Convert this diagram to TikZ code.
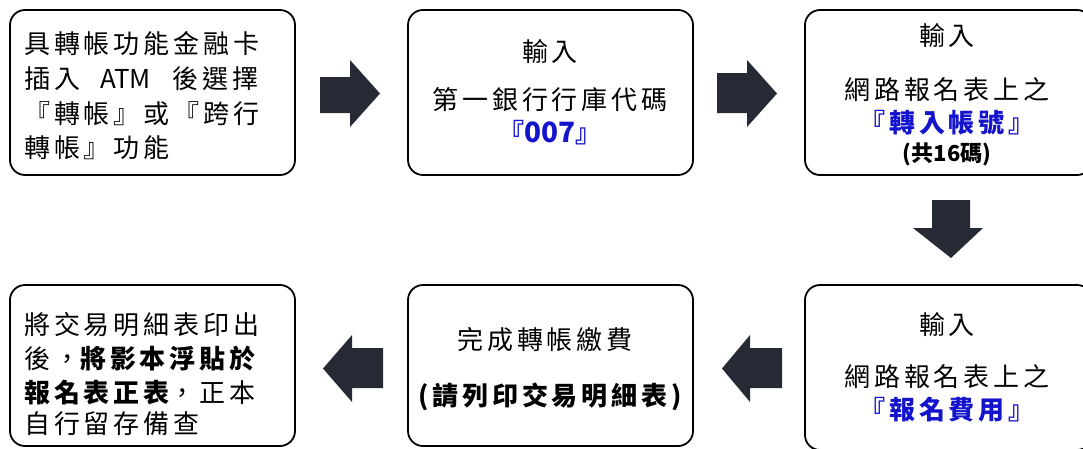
\documentclass[tikz,border=0pt]{standalone}
\usepackage{fontspec}
\setmainfont{Noto Sans CJK TC}[LetterSpace=15]
\newfontfamily\smallcjk{Noto Sans CJK TC}
\newcommand{\tight}[1]{{\addfontfeature{LetterSpace=0}#1}}
\definecolor{arrowdark}{RGB}{37,42,53}
\definecolor{textblue}{RGB}{20,20,205}
\begin{document}
\begin{tikzpicture}[x=1pt,y=-1pt,
  box/.style={draw=black,line width=1.8pt,rounded corners=15pt,inner sep=0pt},
  txt/.style={inner sep=0pt,font=\fontsize{26}{30}\selectfont},
  bluetxt/.style={txt,text=textblue,font=\fontsize{26}{30}\selectfont\bfseries},
  blockarrow/.style={fill=arrowdark,draw=none}]
\useasboundingbox (0,0) rectangle (1083,448);
% boxes
\node[box,minimum width=285pt,minimum height=165pt] (b1) at (152.5,92.5) {};
\node[box,minimum width=285pt,minimum height=165pt] (b2) at (550.5,92.5) {};
\node[box,minimum width=287pt,minimum height=165pt] (b3) at (948.5,92.5) {};
\node[box,minimum width=285pt,minimum height=161pt] (b4) at (152.5,365.5) {};
\node[box,minimum width=285pt,minimum height=161pt] (b5) at (550.5,365.5) {};
\node[box,minimum width=287pt,minimum height=165pt] (b6) at (948.5,367.5) {};
% box 1 text
\node[txt,anchor=west] (t11) at (24,44) {具轉帳功能金融卡};
\node[txt,anchor=west] (t12) at (24,79) {插入\hspace{20pt}\tight{ATM}\hspace{22pt}後選擇};
\node[txt,anchor=west] (t13) at (24,114) {『轉帳』或『跨行};
\node[txt,anchor=west] (t14) at (24,148) {轉帳』功能};
% box 2 text
\node[txt] (t21) at (550,52) {輸入};
\node[txt] (t22) at (550,100) {第一銀行行庫代碼};
\node[bluetxt] (t23) at (550,133) {『\tight{\fontsize{28}{30}\selectfont 007}』};
% box 3 text
\node[txt] (t31) at (947,36) {輸入};
\node[txt] (t32) at (947,90) {網路報名表上之};
\node[bluetxt] (t33) at (947,123) {『轉入帳號』};
\node[inner sep=0pt,font=\smallcjk\fontsize{22}{24}\selectfont\bfseries] (t34) at (947,154) {(共16碼)};
% box 6 text
\node[txt] (t61) at (947,325) {輸入};
\node[txt] (t62) at (947,377) {網路報名表上之};
\node[bluetxt] (t63) at (947,410) {『報名費用』};
% box 5 text
\node[txt] (t51) at (545,340) {完成轉帳繳費};
\node[txt,font=\fontsize{26}{30}\selectfont\bfseries] (t52) at (550,397) {(請列印交易明細表)};
% box 4 text
\node[txt,anchor=west] (t41) at (24,325) {將交易明細表印出};
\node[txt,anchor=west] (t42) at (24,359) {後，{\bfseries 將影本浮貼於}};
\node[txt,anchor=west] (t43) at (24,393) {{\bfseries 報名表正表}，正本};
\node[txt,anchor=west] (t44) at (24,424) {自行留存備查};
% block arrows
\fill[blockarrow] (320,77) -- (350,77) -- (350,60) -- (380,93.5) -- (350,127) -- (350,113) -- (320,113) -- cycle;
\fill[blockarrow] (717,73) -- (747,73) -- (747,60) -- (777,93.5) -- (747,127) -- (747,113) -- (717,113) -- cycle;
\fill[blockarrow] (932,200) -- (970,200) -- (970,228) -- (983,228) -- (951,258) -- (913,228) -- (932,228) -- cycle;
\fill[blockarrow] (782,348) -- (750,348) -- (750,335) -- (722,368.5) -- (750,402) -- (750,388) -- (782,388) -- cycle;
\fill[blockarrow] (383,348) -- (352,348) -- (352,335) -- (323,368.5) -- (352,402) -- (352,388) -- (383,388) -- cycle;
\end{tikzpicture}
\end{document}
